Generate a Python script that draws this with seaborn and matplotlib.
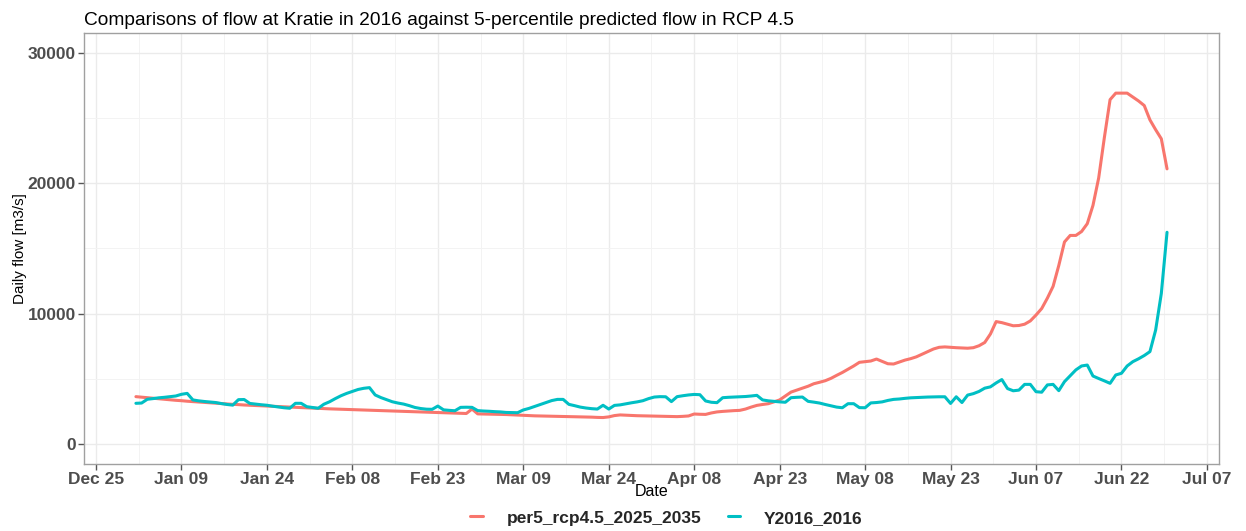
import numpy as np
import pandas as pd
import matplotlib
matplotlib.use("Agg")
import matplotlib.pyplot as plt
from matplotlib.ticker import MultipleLocator
from matplotlib.lines import Line2D
import seaborn as sns

# ---- data ----
start_date = "2016-01-01"
n_days = 182

per5_rcp45 = [
    3650, 3610, 3570, 3530, 3490, 3450, 3410, 3370, 3340, 3300,
    3270, 3240, 3210, 3180, 3150, 3120, 3090, 3060, 3040, 3010,
    2990, 2970, 2950, 2930, 2910, 2890, 2870, 2850, 2830, 2810,
    2790, 2770, 2750, 2730, 2715, 2700, 2685, 2670, 2655, 2640,
    2625, 2610, 2595, 2580, 2565, 2550, 2535, 2520, 2505, 2490,
    2475, 2460, 2445, 2430, 2415, 2400, 2385, 2370, 2360, 2700,
    2330, 2320, 2310, 2300, 2290, 2280, 2260, 2240, 2220, 2200,
    2180, 2170, 2160, 2150, 2140, 2130, 2120, 2110, 2100, 2090,
    2080, 2060, 2050, 2100, 2200, 2250, 2230, 2210, 2190, 2180,
    2170, 2160, 2150, 2140, 2130, 2120, 2140, 2170, 2320, 2300,
    2290, 2400, 2480, 2520, 2550, 2580, 2600, 2700, 2850, 2980,
    3050, 3110, 3250, 3400, 3700, 4000, 4150, 4300, 4450, 4640,
    4750, 4870, 5050, 5280, 5500, 5750, 6000, 6280, 6330, 6380,
    6530, 6350, 6170, 6150, 6300, 6450, 6560, 6700, 6900, 7100,
    7300, 7430, 7460, 7430, 7400, 7380, 7360, 7400, 7550, 7800,
    8450, 9400, 9320, 9200, 9080, 9100, 9200, 9450, 9900, 10400,
    11200, 12100, 13700, 15500, 16000, 16000, 16300, 16900, 18300, 20400,
    23500, 26400, 26900, 26900, 26900, 26600, 26300, 25950, 24850, 24100,
    23400, 21100,
]

y2016 = [
    3140, 3160, 3450, 3500, 3560, 3600, 3650, 3700, 3830, 3900,
    3400, 3330, 3280, 3240, 3200, 3120, 3050, 3000, 3420, 3430,
    3130, 3080, 3030, 2990, 2920, 2860, 2800, 2760, 3140, 3140,
    2880, 2820, 2760, 3070, 3260, 3500, 3720, 3900, 4050, 4200,
    4290, 4340, 3780, 3580, 3420, 3260, 3160, 3080, 2960, 2820,
    2740, 2690, 2680, 2930, 2640, 2600, 2570, 2830, 2840, 2830,
    2580, 2550, 2530, 2500, 2480, 2440, 2430, 2420, 2630, 2750,
    2900, 3050, 3200, 3350, 3440, 3440, 3060, 2960, 2850, 2780,
    2730, 2700, 2990, 2700, 2980, 3020, 3100, 3180, 3250, 3340,
    3500, 3620, 3650, 3640, 3270, 3650, 3720, 3780, 3820, 3800,
    3320, 3220, 3190, 3570, 3600, 3620, 3640, 3660, 3700, 3750,
    3400, 3330, 3290, 3250, 3220, 3570, 3600, 3620, 3290, 3230,
    3160, 3050, 2950, 2850, 2800, 3110, 3110, 2810, 2800, 3170,
    3200, 3250, 3360, 3440, 3470, 3520, 3560, 3580, 3600, 3620,
    3630, 3640, 3640, 3130, 3640, 3200, 3770, 3880, 4050, 4300,
    4400, 4700, 4960, 4270, 4100, 4150, 4590, 4590, 4030, 3990,
    4550, 4590, 4110, 4800, 5250, 5700, 6000, 6070, 5230, 5040,
    4860, 4670, 5310, 5440, 6000, 6330, 6550, 6800, 7100, 8750,
    11560, 16240,
]

series_names = ["per5_rcp4.5_2025_2035", "Y2016_2016"]
series_colors = ["#F8766D", "#00BFC4"]
x_tick_start, x_tick_end = "2015-12-25", "2016-07-07"
y_ticks = [0, 10000, 20000, 30000]

dates = pd.date_range(start_date, periods=n_days, freq="D")
df = pd.concat([
    pd.DataFrame({"Date": dates, "flow": per5_rcp45, "variable": series_names[0]}),
    pd.DataFrame({"Date": dates, "flow": y2016, "variable": series_names[1]}),
])

sns.set_theme(style="whitegrid")
plt.rcParams["font.family"] = ["Liberation Sans", "DejaVu Sans"]

fig = plt.figure(figsize=(12.46, 5.31), dpi=100)
ax = fig.add_axes([0.0677, 0.1264, 0.978 - 0.0677, 0.9377 - 0.1264])

sns.lineplot(data=df, x="Date", y="flow", hue="variable", hue_order=series_names,
             palette=series_colors, linewidth=2.2, ax=ax, legend=False)

# axes limits (ggplot style expansion)
span = dates[-1] - dates[0]
ax.set_xlim(dates[0] - span * 0.05, dates[-1] + span * 0.05)
ax.set_ylim(-1500, 31500)

xt = pd.date_range(x_tick_start, x_tick_end, freq="15D")
ax.set_xticks(xt)
ax.set_xticklabels([d.strftime("%b %d") for d in xt])
minor_x = xt[:-1] + pd.Timedelta(hours=180)
ax.set_xticks(minor_x, minor=True)
ax.set_yticks(y_ticks)
ax.set_yticklabels([str(v) for v in y_ticks])
ax.yaxis.set_minor_locator(MultipleLocator(5000))

ax.set_facecolor("white")
ax.grid(True, which="major", color="#EBEBEB", linewidth=1.0)
ax.grid(True, which="minor", color="#F3F3F3", linewidth=0.7)
ax.set_axisbelow(True)
for s in ax.spines.values():
    s.set_visible(True)
    s.set_color("#A0A0A0")
    s.set_linewidth(1.0)

ax.tick_params(axis="both", which="major", length=4, width=1.0, color="#555555",
               labelsize=12.5, labelcolor="#4D4D4D", pad=2, bottom=True, left=True)
ax.tick_params(axis="both", which="minor", length=0)
for lab in ax.get_xticklabels() + ax.get_yticklabels():
    lab.set_fontweight("bold")

ax.set_xlabel("Date", fontsize=11.5, color="black", va="center")
ax.xaxis.set_label_coords(0.5, -0.064)
ax.set_ylabel("Daily flow [m3/s]", fontsize=11, color="black", va="center")
ax.yaxis.set_label_coords(-0.0567, 0.5)
fig.text(0.0677, 0.962, "Comparisons of flow at Kratie in 2016 against 5-percentile predicted flow in RCP 4.5",
         fontsize=13.8, ha="left", va="center", color="black")

handles = [Line2D([0], [0], color=c, linewidth=2.2) for c in series_colors]
fig.legend(handles, series_names, loc="center", bbox_to_anchor=(0.535, 0.0245),
           ncol=2, frameon=False, handlelength=0.7, handletextpad=1.4,
           columnspacing=1.5, prop={"weight": "bold", "size": 12.5})

fig.savefig("out.png", dpi=100, facecolor="white")
